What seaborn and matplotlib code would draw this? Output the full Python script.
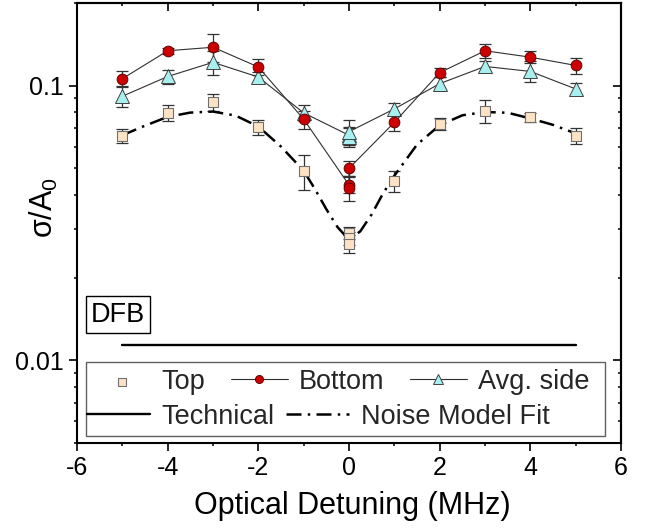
import numpy as np
import pandas as pd
import seaborn as sns
import matplotlib.pyplot as plt
from matplotlib.patches import Rectangle
from matplotlib.ticker import MultipleLocator, LogLocator, NullFormatter


detuning = [-5, -4, -3, -2, -1, 0, 0, 0, 1, 2, 3, 4, 5]
top = [0.0658, 0.0796, 0.0872, 0.0706, 0.0488, 0.0291, 0.0279, 0.0266,
       0.0449, 0.0726, 0.0811, 0.0767, 0.0658]
top_err = [0.004, 0.0054, 0.006, 0.0042, 0.007, 0.0015, 0.0015, 0.002,
           0.004, 0.0034, 0.0077, 0.003, 0.0045]
bottom = [0.106, 0.134, 0.138, 0.117, 0.0755, 0.0435, 0.0425, 0.050,
          0.0735, 0.1115, 0.134, 0.127, 0.1185]
bottom_err = [0.007, 0.0035, 0.016, 0.008, 0.0057, 0.003, 0.0045, 0.003,
              0.005, 0.004, 0.008, 0.0065, 0.008]
avg_side = [0.0915, 0.108, 0.1216, 0.1075, 0.0796, 0.066, 0.065, 0.068,
            0.0823, 0.1017, 0.1175, 0.1127, 0.0973]
avg_side_err = [0.008, 0.0065, 0.012, 0.0043, 0.0054, 0.005, 0.005, 0.007,
                0.004, 0.0056, 0.0055, 0.0098, 0.0046]

# noise model fit, sampled along the drawn curve
fit_detuning = [-5, -4.5, -4, -3.5, -3, -2.5, -2, -1.5, -1, -0.75, -0.5, -0.25,
                0, 0.25, 0.5, 0.75, 1, 1.5, 2, 2.5, 3, 3.5, 4, 4.5, 5]
fit_values = [0.0660, 0.0715, 0.0770, 0.0798, 0.0805, 0.0778, 0.0710, 0.0600,
              0.0490, 0.0420, 0.0355, 0.0305, 0.0275, 0.0295, 0.0340, 0.0405,
              0.0470, 0.0610, 0.0718, 0.0780, 0.0802, 0.0797, 0.0760, 0.0720,
              0.0670]

# technical noise floor
tech_detuning = [-5, 5]
tech_level = [0.0114, 0.0114]

df = pd.DataFrame({'detuning': detuning, 'top': top, 'bottom': bottom,
                   'avg': avg_side})

sns.set_theme(style='ticks')
plt.rcParams['font.family'] = ['Liberation Sans', 'DejaVu Sans']
plt.rcParams['mathtext.fontset'] = 'custom'
plt.rcParams['mathtext.rm'] = 'Liberation Sans'
plt.rcParams['mathtext.it'] = 'Liberation Sans:italic'
plt.rcParams['mathtext.default'] = 'regular'
plt.rcParams['axes.unicode_minus'] = False

fig = plt.figure(figsize=(6.59, 5.31), dpi=100)
ax = fig.add_axes([77 / 659, 1 - 443 / 531, 544 / 659, 440 / 531])

# error bars first so the markers sit on top
ebar = dict(fmt='none', ecolor='#333333', elinewidth=0.9, capsize=4,
            capthick=0.9, zorder=2)
ax.errorbar(detuning, top, yerr=top_err, **ebar)
ax.errorbar(detuning, bottom, yerr=bottom_err, **ebar)
ax.errorbar(detuning, avg_side, yerr=avg_side_err, **ebar)

sns.lineplot(x=tech_detuning, y=tech_level, color='black', lw=1.7,
             label='Technical', legend=False, ax=ax, zorder=3)
sns.lineplot(x=fit_detuning, y=fit_values, estimator=None, sort=False,
             color='black', lw=1.8, linestyle=(0, (6, 2.5, 1, 2.5)),
             label='Noise Model Fit', legend=False, ax=ax, zorder=3)

sns.lineplot(data=df, x='detuning', y='avg', estimator=None, sort=False,
             color='#303030', lw=0.8, marker='^', markersize=9.5,
             markerfacecolor='#a8f0f0', markeredgecolor='#404040',
             markeredgewidth=0.7, label='Avg. side', legend=False, ax=ax,
             zorder=4)
sns.lineplot(data=df, x='detuning', y='bottom', estimator=None, sort=False,
             color='#303030', lw=0.8, marker='o', markersize=7.8,
             markerfacecolor='#cc0000', markeredgecolor='#500000',
             markeredgewidth=0.6, label='Bottom', legend=False, ax=ax,
             zorder=4)
sns.scatterplot(data=df, x='detuning', y='top', marker='s', s=58,
                color='#fde3c3', edgecolor='#707070', linewidth=0.8,
                label='Top', legend=False, ax=ax, zorder=4)

ax.set_yscale('log')
ax.set_xlim(-6, 6)
ax.set_ylim(0.005, 0.2)
ax.set_xticks(range(-6, 7, 2))
ax.xaxis.set_minor_locator(MultipleLocator(1))
ax.set_yticks([0.01, 0.1])
ax.set_yticklabels(['0.01', '0.1'])
ax.yaxis.set_minor_locator(LogLocator(base=10, subs=np.arange(2, 10)))
ax.yaxis.set_minor_formatter(NullFormatter())

ax.tick_params(which='major', direction='out', length=5.5, width=1.2,
               labelsize=18, color='black', labelcolor='black')
ax.tick_params(which='minor', direction='out', length=2.5, width=1.1,
               color='black')
ax.tick_params(axis='x', which='major', pad=4)
ax.tick_params(axis='y', which='major', pad=4)
for sp in ax.spines.values():
    sp.set_linewidth(1.5)
    sp.set_color('black')

# mirrored ticks pointing inward on top and right
secx = ax.secondary_xaxis('top')
secx.xaxis.set_major_locator(MultipleLocator(2))
secx.xaxis.set_minor_locator(MultipleLocator(1))
secx.tick_params(which='major', direction='in', length=5.5, width=1.2,
                 labeltop=False, color='black')
secx.tick_params(which='minor', direction='in', length=2.5, width=1.1,
                 color='black')
secy = ax.secondary_yaxis('right')
secy.yaxis.set_major_locator(LogLocator(base=10))
secy.yaxis.set_minor_locator(LogLocator(base=10, subs=np.arange(2, 10)))
secy.yaxis.set_major_formatter(NullFormatter())
secy.yaxis.set_minor_formatter(NullFormatter())
secy.tick_params(which='major', direction='in', length=5.5, width=1.2,
                 labelright=False, color='black')
secy.tick_params(which='minor', direction='in', length=2.5, width=1.1,
                 color='black')
for s in (secx, secy):
    for sp in s.spines.values():
        sp.set_linewidth(1.5)
        sp.set_color('black')

ax.set_xlabel('Optical Detuning (MHz)', fontsize=22, color='black')
ax.set_ylabel('σ/$A_0$', fontsize=22, color='black')
ax.xaxis.set_label_coords(0.506, -0.108)
ax.yaxis.set_label_coords(-0.032, 0.535)

ax.text(0.0754, 0.2916, 'DFB', transform=ax.transAxes, ha='center',
        va='center', fontsize=19.5, color='black',
        bbox=dict(boxstyle='square,pad=0.2', fc='white', ec='black', lw=1))

# legend: two rows inside one frame
handles, labels = ax.get_legend_handles_labels()
lookup = dict(zip(labels, handles))
row1 = ['Top', 'Bottom', 'Avg. side']
row2 = ['Technical', 'Noise Model Fit']
leg1 = ax.legend([lookup[k] for k in row1], row1, ncol=3, loc='center left',
                 bbox_to_anchor=(0.031, 0.139), frameon=False, fontsize=19.5,
                 handlelength=2.1, handletextpad=0.4, columnspacing=0.95,
                 borderpad=0, borderaxespad=0, markerscale=0.75)
ax.add_artist(leg1)
ax.legend([lookup[k] for k in row2], row2, ncol=2, loc='center left',
          bbox_to_anchor=(0.018, 0.060), frameon=False, fontsize=19.5,
          handlelength=2.35, handletextpad=0.42, columnspacing=0.4,
          borderpad=0, borderaxespad=0)
ax.add_patch(Rectangle((0.0165, 0.016), 0.955, 0.168, transform=ax.transAxes,
                       fill=False, edgecolor='#606060', lw=1.0, zorder=5))

fig.savefig('out.png', dpi=100)
